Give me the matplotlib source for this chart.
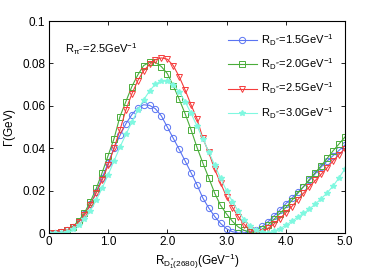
import numpy as np
import matplotlib
matplotlib.use('Agg')
import matplotlib.pyplot as plt

plt.rcParams['font.family'] = ['Liberation Sans', 'DejaVu Sans']
plt.rcParams['mathtext.fontset'] = 'custom'
plt.rcParams['mathtext.rm'] = 'Liberation Sans'
plt.rcParams['mathtext.it'] = 'Liberation Sans'

# R_D*1(2680) in GeV^-1, step 0.1
x = np.round(np.arange(0, 5.01, 0.1), 1)

gamma_15 = [0.0, 0.0001, 0.0004, 0.0012, 0.0028, 0.0052, 0.0088, 0.0135, 0.0195, 0.026,
            0.033, 0.040, 0.046, 0.0515, 0.0558, 0.0590, 0.0605, 0.0602, 0.0586, 0.0552,
            0.0500, 0.0447, 0.0395, 0.0340, 0.0285, 0.0228, 0.0165, 0.0118, 0.0078, 0.0045,
            0.0020, 0.0006, 0.0000, 0.0001, 0.0005, 0.0014, 0.0031, 0.0053, 0.0080, 0.0108,
            0.0138, 0.0164, 0.0192, 0.0218, 0.0248, 0.0280, 0.0312, 0.0340, 0.0365, 0.0390,
            0.0415]

gamma_20 = [0.0, 0.0001, 0.0004, 0.0013, 0.0030, 0.0056, 0.0095, 0.0148, 0.021, 0.0285,
            0.0365, 0.0445, 0.0549, 0.0620, 0.0690, 0.0745, 0.0790, 0.0805, 0.0805, 0.0785,
            0.0752, 0.0695, 0.0632, 0.0563, 0.0488, 0.0405, 0.0330, 0.0260, 0.0188, 0.0130,
            0.0090, 0.0055, 0.0028, 0.0012, 0.0003, 0.0004, 0.0018, 0.0038, 0.0064, 0.0092,
            0.0120, 0.0152, 0.0186, 0.0219, 0.0253, 0.0285, 0.0318, 0.0352, 0.0388, 0.0420,
            0.0453]

gamma_25 = [0.0, 0.0001, 0.0004, 0.0012, 0.0027, 0.0050, 0.0085, 0.0132, 0.019, 0.025,
            0.032, 0.040, 0.0486, 0.0580, 0.0655, 0.0718, 0.0765, 0.0795, 0.0818, 0.0826,
            0.0820, 0.0790, 0.0738, 0.0675, 0.0605, 0.0540, 0.0447, 0.0380, 0.0300, 0.0235,
            0.0172, 0.0120, 0.0077, 0.0040, 0.0016, 0.0003, 0.0006, 0.0022, 0.0042, 0.0068,
            0.0095, 0.0124, 0.0156, 0.0188, 0.0218, 0.0248, 0.0278, 0.0308, 0.0340, 0.0370,
            0.0398]

gamma_30 = [0.0, 0.0, 0.0002, 0.0007, 0.0018, 0.0037, 0.0066, 0.0105, 0.0155, 0.0212,
            0.0274, 0.0340, 0.0405, 0.0465, 0.0522, 0.0578, 0.0628, 0.0670, 0.0703, 0.0717,
            0.0718, 0.0700, 0.0666, 0.0620, 0.0565, 0.0505, 0.0445, 0.0383, 0.0320, 0.0258,
            0.0200, 0.0148, 0.0102, 0.0063, 0.0033, 0.0013, 0.0003, 0.0001, 0.0008, 0.0020,
            0.0036, 0.0055, 0.0074, 0.0093, 0.0113, 0.0137, 0.0162, 0.0190, 0.0222, 0.0260,
            0.0303]

labels = ['R$_{D^{*\\prime}}$=1.5GeV$^{-1}$', 'R$_{D^{*\\prime}}$=2.0GeV$^{-1}$',
          'R$_{D^{*\\prime}}$=2.5GeV$^{-1}$', 'R$_{D^{*\\prime}}$=3.0GeV$^{-1}$']
colors = ['#5a74f2', '#4aad3a', '#f53c3c', '#80f8e0']
markers = ['o', 's', 'v', '*']

fig = plt.figure(figsize=(3.82, 2.73), dpi=100)
ax = fig.add_axes([0.128, 0.1465, 0.775, 0.7765])

for y, lab, c, m in zip([gamma_15, gamma_20, gamma_25, gamma_30], labels, colors, markers):
    if m == '*':
        ax.plot(x, y, color=c, marker=m, markersize=4.2, markerfacecolor=c,
                markeredgecolor=c, lw=0.8, label=lab)
    else:
        ax.plot(x, y, color=c, marker=m, markersize=4.5, markerfacecolor='none',
                markeredgecolor=c, markeredgewidth=0.7, lw=0.8, label=lab)

ax.set_xlim(0, 5)
ax.set_ylim(0, 0.1)
ax.set_xticks([0, 1, 2, 3, 4, 5])
ax.set_xticklabels(['0', '1.0', '2.0', '3.0', '4.0', '5.0'])
ax.set_yticks([0, 0.02, 0.04, 0.06, 0.08, 0.1])
ax.set_yticklabels(['0', '0.02', '0.04', '0.06', '0.08', '0.1'])
ax.tick_params(direction='in', top=True, right=True, labelsize=8.5, length=3, width=0.6, pad=2.5)
for s in ax.spines.values():
    s.set_linewidth(0.8)

ax.set_xlabel('R$_{D^{*}_{1}(2680)}$(GeV$^{-1}$)', fontsize=8.5, labelpad=2)
ax.set_ylabel('$\\Gamma$(GeV)', fontsize=8.5, labelpad=3)

ax.text(0.055, 0.85, 'R$_{\\pi^{-}}$=2.5GeV$^{-1}$', transform=ax.transAxes, fontsize=8)

ax.legend(loc='upper right', frameon=False, fontsize=8, handlelength=2.6,
          labelspacing=0.78, borderaxespad=0.6, handletextpad=0.4)

fig.savefig('out.png', dpi=100)
